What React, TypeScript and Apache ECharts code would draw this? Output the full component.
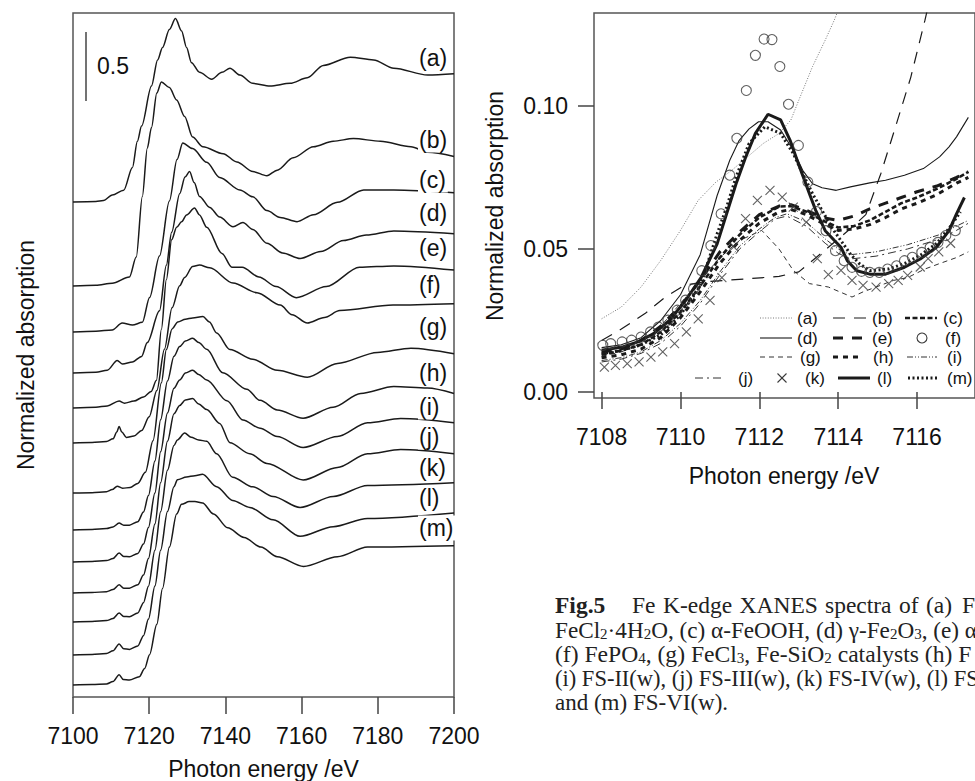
import React, { useEffect, useRef } from "react";
import * as echarts from "echarts";

// ---------------- DATA ----------------
// Left panel: normalized Fe K-edge XANES spectra, [photon energy (eV), normalized absorption]
const energyTicksLeft = [7100, 7120, 7140, 7160, 7180, 7200];
const energyTicksRight = [7108, 7110, 7112, 7114, 7116];
const absTicksRight = [0, 0.05, 0.1];
const sampleLabels = ["(a)", "(b)", "(c)", "(d)", "(e)", "(f)", "(g)", "(h)", "(i)", "(j)", "(k)", "(l)", "(m)"];
// vertical offsets used to stack the spectra
const stackOffsets = [3.59, 2.98, 2.647, 2.35, 2.096, 1.842, 1.479, 1.211, 0.979, 0.754, 0.544, 0.305, 0.087];

const specA = [[7100,0],[7106,0.004],[7108,0.01],[7110.3,0.05],[7113.3,0.085],[7115.6,0.25],[7116.9,0.44],[7118,0.55],[7120.6,0.84],[7122.2,1.03],[7123.5,1.12],[7125.3,1.25],[7126.9,1.33],[7128.5,1.24],[7129.8,1.12],[7131.1,1.01],[7133.2,0.94],[7136.4,0.89],[7139.1,0.94],[7141.2,0.97],[7143.8,0.92],[7147.2,0.86],[7151.7,0.84],[7157,0.86],[7161.5,0.9],[7165.7,0.99],[7172.8,1.05],[7178.9,1.03],[7184.2,0.97],[7193.1,0.92],[7200,0.93]];
const specB = [[7100,0],[7106,0.005],[7110.3,0.02],[7114.8,0.065],[7116.6,0.21],[7118.2,0.65],[7119.5,1.0],[7120.6,1.15],[7122,1.4],[7123.2,1.48],[7125.3,1.44],[7127.2,1.35],[7129.3,1.23],[7131.4,1.08],[7134.1,1.01],[7139.4,0.96],[7143,0.9],[7147.2,0.83],[7150.9,0.8],[7153.6,0.84],[7157.8,0.93],[7163.1,1.01],[7168.3,1.05],[7173.6,1.07],[7180.7,1.05],[7188.7,1.01],[7193.1,0.97],[7200,0.94]];
const specC = [[7100,0],[7106,0.005],[7110.3,0.015],[7112.9,0.065],[7115.6,0.05],[7118.2,0.07],[7120.1,0.25],[7122.7,0.55],[7125.3,0.95],[7127.3,1.25],[7128.8,1.37],[7131.4,1.33],[7135.1,1.23],[7138.5,1.12],[7143.8,1.03],[7147.2,0.98],[7150.9,0.88],[7154.4,0.83],[7158.8,0.8],[7163.1,0.85],[7169.4,0.94],[7176.3,1.03],[7184.2,1.03],[7200,1.01]];
const specD = [[7100,0],[7106,0.005],[7109,0.02],[7111.6,0.09],[7113,0.065],[7115.6,0.08],[7118,0.12],[7119.5,0.22],[7122.7,0.45],[7124.5,0.78],[7125.9,1.02],[7128,1.3],[7129.4,1.42],[7130.6,1.46],[7131.8,1.38],[7133.2,1.28],[7135.9,1.2],[7138.5,1.13],[7142,1.06],[7144.6,1.09],[7147.2,1.04],[7150.9,0.94],[7155,0.87],[7159.6,0.83],[7165,0.88],[7171,0.96],[7177,1.0],[7184.2,1.03],[7200,1.01]];
const specE = [[7100,0],[7106,0.005],[7109,0.015],[7112.1,0.05],[7113.5,0.035],[7116,0.05],[7118.5,0.08],[7120.5,0.12],[7121.9,0.2],[7123.2,0.57],[7124.5,0.93],[7125.9,1.22],[7127.2,1.31],[7128.5,1.35],[7129.8,1.4],[7131.9,1.45],[7133.2,1.4],[7135.1,1.31],[7139.1,1.12],[7141.7,1.02],[7144.4,1.02],[7148.8,0.95],[7153.3,0.88],[7158.6,0.8],[7166.5,0.88],[7175.2,1.02],[7184.2,1.03],[7200,1.0]];
const specF = [[7100,0],[7105,0.003],[7108.8,0.01],[7110.5,0.03],[7111.5,0.08],[7112.1,0.12],[7112.8,0.08],[7114,0.04],[7116,0.05],[7118,0.09],[7120,0.19],[7122,0.38],[7124,0.68],[7126,0.98],[7128,1.14],[7129.3,1.2],[7131.4,1.28],[7133.2,1.29],[7135.9,1.27],[7142,1.16],[7148.3,1.09],[7154.4,1.0],[7157.5,0.93],[7161.5,0.87],[7166,0.91],[7170,0.96],[7184,1.0],[7200,1.01]];
const specG = [[7100,0],[7105,0.003],[7108.8,0.01],[7110.3,0.025],[7111.6,0.05],[7113,0.035],[7115,0.04],[7117,0.07],[7119,0.15],[7121,0.38],[7123.2,0.8],[7124.5,1.04],[7126,1.19],[7127.5,1.24],[7129.5,1.26],[7131.4,1.27],[7134.1,1.28],[7135.8,1.24],[7137.7,1.16],[7141.2,1.04],[7147.2,0.97],[7153.6,0.89],[7161.5,0.84],[7169.4,0.94],[7179.9,1.02],[7188.7,1.05],[7200,1.01]];
const specH = [[7100,0],[7105,0.003],[7108.8,0.01],[7110.5,0.022],[7112.1,0.05],[7113.3,0.035],[7114.8,0.035],[7117,0.06],[7118.5,0.13],[7119.8,0.25],[7121.5,0.5],[7123,0.8],[7124.8,1.08],[7126.5,1.26],[7128,1.33],[7129.5,1.37],[7131.4,1.39],[7133,1.36],[7135.1,1.31],[7139.3,1.14],[7145.6,1.02],[7149.1,0.94],[7153.6,0.87],[7160.4,0.81],[7168.3,0.89],[7175.5,0.99],[7184.2,1.04],[7193,1.03],[7200,0.99]];
const specI = [[7100,0],[7105,0.003],[7108.8,0.01],[7110.5,0.025],[7112.1,0.065],[7113.3,0.04],[7114.8,0.038],[7117,0.062],[7118.5,0.13],[7119.8,0.25],[7121.5,0.5],[7123,0.8],[7124.8,1.08],[7126.5,1.26],[7128,1.32],[7129.5,1.37],[7131.4,1.39],[7133,1.36],[7135.1,1.32],[7140.4,1.17],[7144.6,1.03],[7149.1,0.97],[7153.6,0.91],[7160.4,0.83],[7169.4,0.91],[7177.3,1.01],[7186,1.04],[7200,1.01]];
const specJ = [[7100,0],[7105,0.003],[7108.8,0.01],[7110.5,0.025],[7112.1,0.06],[7113.3,0.035],[7114.8,0.035],[7117,0.06],[7118.5,0.13],[7119.8,0.25],[7121.5,0.5],[7123,0.8],[7124.8,1.1],[7126.5,1.3],[7128,1.36],[7129.5,1.4],[7131.4,1.41],[7133,1.37],[7135.1,1.33],[7138.5,1.23],[7141.2,1.09],[7146.4,1.01],[7150.9,0.94],[7160.4,0.82],[7169.4,0.91],[7177.3,1.01],[7186,1.04],[7200,1.01]];
const specK = [[7100,0],[7105,0.003],[7108.8,0.01],[7110.5,0.025],[7112.1,0.065],[7113.3,0.04],[7114.8,0.038],[7117,0.065],[7118.5,0.14],[7119.8,0.26],[7121.5,0.52],[7123,0.8],[7124.8,1.1],[7126.5,1.28],[7127.4,1.32],[7129.3,1.37],[7131,1.34],[7133,1.32],[7135.1,1.31],[7137.7,1.22],[7141.9,1.05],[7147.2,0.98],[7152.5,0.91],[7159.6,0.83],[7168.3,0.91],[7177.3,0.99],[7200,1.01]];
const specL = [[7100,0],[7105,0.003],[7108.8,0.01],[7110.5,0.03],[7112.1,0.08],[7113.3,0.045],[7114.8,0.04],[7117,0.065],[7118.5,0.14],[7119.8,0.26],[7121.5,0.5],[7123,0.76],[7124.8,1.04],[7126.5,1.22],[7127.4,1.27],[7129.8,1.29],[7132,1.3],[7134,1.31],[7137.7,1.22],[7141.9,1.12],[7146.4,1.07],[7152.5,0.98],[7159.6,0.86],[7168.3,0.93],[7177.3,0.99],[7200,1.03]];
const specM = [[7100,0],[7105,0.003],[7108.8,0.008],[7110.5,0.025],[7112.1,0.075],[7113.2,0.04],[7114.8,0.036],[7117.4,0.06],[7118.8,0.12],[7120.1,0.22],[7122,0.44],[7123.5,0.7],[7125.3,1.0],[7127.2,1.24],[7128.5,1.31],[7130.5,1.33],[7132,1.33],[7134,1.32],[7136.9,1.24],[7140.6,1.14],[7144.9,1.07],[7149.3,1.0],[7153.6,0.93],[7160.5,0.86],[7169.4,0.93],[7177.3,1.0],[7200,1.01]];
const spectra = [specA, specB, specC, specD, specE, specF, specG, specH, specI, specJ, specK, specL, specM];

// Right panel: pre-edge region, [photon energy (eV), normalized absorption]
const preA = [[7108,0.0256],[7108.5,0.0297],[7109,0.0367],[7109.5,0.046],[7110,0.0565],[7110.45,0.067],[7110.9,0.0734],[7111.3,0.0775],[7111.7,0.0822],[7112.1,0.0869],[7112.5,0.0904],[7112.8,0.0951],[7113,0.102],[7113.35,0.1138],[7113.67,0.123],[7113.9,0.13],[7114.1,0.137]];
const preB = [[7108,0.018],[7108.5,0.022],[7109.1,0.0274],[7109.6,0.033],[7110.1,0.0373],[7110.6,0.0385],[7111.1,0.039],[7111.7,0.0396],[7112.5,0.0404],[7113,0.042],[7113.7,0.05],[7114.3,0.057],[7114.7,0.062],[7115.08,0.0763],[7115.48,0.0939],[7115.84,0.11],[7116.2,0.13],[7116.3,0.136]];
const preC = [[7108,0.013],[7108.5,0.0145],[7109,0.0165],[7109.5,0.021],[7110,0.028],[7110.5,0.037],[7111,0.047],[7111.5,0.055],[7112,0.061],[7112.5,0.0648],[7112.8,0.065],[7113.2,0.063],[7113.6,0.06],[7114,0.0575],[7114.4,0.058],[7114.8,0.06],[7115.2,0.063],[7115.6,0.066],[7116,0.068],[7116.5,0.071],[7117,0.0745],[7117.3,0.077]];
const preD = [[7108,0.0155],[7108.5,0.0165],[7109,0.019],[7109.5,0.025],[7110,0.034],[7110.5,0.048],[7110.93,0.0687],[7111.25,0.081],[7111.49,0.088],[7111.74,0.092],[7111.98,0.0945],[7112.22,0.0945],[7112.54,0.0916],[7112.86,0.0845],[7113.1,0.0775],[7113.35,0.0728],[7113.59,0.0714],[7113.95,0.0705],[7114.31,0.0717],[7114.8,0.0731],[7115.2,0.074],[7115.68,0.0758],[7116.16,0.0781],[7116.57,0.0822],[7116.81,0.0857],[7117,0.0892],[7117.3,0.096]];
const preE = [[7108,0.014],[7108.5,0.015],[7109,0.018],[7109.5,0.023],[7110,0.03],[7110.5,0.039],[7111,0.049],[7111.5,0.056],[7112,0.062],[7112.5,0.065],[7112.8,0.0655],[7113.2,0.0635],[7113.6,0.061],[7114,0.06],[7114.4,0.0615],[7114.8,0.064],[7115.2,0.066],[7115.6,0.068],[7116,0.07],[7116.5,0.072],[7117,0.075],[7117.3,0.077]];
const preF = [[7108.03,0.0163],[7108.23,0.0169],[7108.52,0.0175],[7108.76,0.0181],[7109,0.0192],[7109.24,0.021],[7109.44,0.0227],[7109.68,0.0251],[7109.92,0.0286],[7110.13,0.0321],[7110.33,0.0361],[7110.54,0.0424],[7110.77,0.0512],[7111.03,0.0623],[7111.25,0.0758],[7111.43,0.0887],[7111.67,0.1054],[7111.9,0.1177],[7112.12,0.1234],[7112.32,0.1232],[7112.52,0.1138],[7112.74,0.1006],[7112.99,0.0862],[7113.23,0.0734],[7113.45,0.0631],[7113.69,0.0564],[7113.93,0.0494],[7114.15,0.0459],[7114.35,0.0436],[7114.59,0.0422],[7114.8,0.0418],[7115.04,0.0418],[7115.25,0.043],[7115.48,0.0441],[7115.68,0.0459],[7115.88,0.0471],[7116.12,0.0488],[7116.33,0.0505],[7116.53,0.0523],[7116.73,0.0547],[7116.97,0.0564]];
const preG = [[7108,0.0125],[7108.5,0.014],[7109,0.017],[7109.5,0.023],[7110,0.031],[7110.5,0.039],[7111,0.047],[7111.5,0.053],[7112.06,0.0565],[7112.5,0.05],[7112.86,0.0425],[7113.27,0.0379],[7113.75,0.0367],[7114.35,0.0332],[7114.63,0.035],[7114.96,0.0367],[7115.4,0.039],[7115.76,0.04],[7116.2,0.043],[7116.57,0.0449],[7117,0.047],[7117.3,0.049]];
const preH = [[7108,0.012],[7108.5,0.013],[7109,0.015],[7109.5,0.019],[7110,0.026],[7110.5,0.035],[7111,0.045],[7111.5,0.053],[7112,0.059],[7112.5,0.063],[7112.8,0.0638],[7113.2,0.062],[7113.6,0.059],[7114,0.0565],[7114.4,0.057],[7114.8,0.0585],[7115.2,0.061],[7115.6,0.064],[7116,0.066],[7116.5,0.069],[7117,0.073],[7117.3,0.075]];
const preI = [[7108,0.011],[7108.5,0.012],[7109,0.014],[7109.5,0.018],[7110,0.024],[7110.5,0.032],[7111,0.042],[7111.5,0.051],[7112,0.057],[7112.4,0.061],[7112.7,0.0623],[7113.19,0.0595],[7113.67,0.0535],[7114,0.05],[7114.31,0.048],[7114.96,0.049],[7115.76,0.0515],[7116.57,0.055],[7117,0.058],[7117.3,0.06]];
const preJ = [[7108,0.0105],[7108.5,0.0115],[7109,0.0135],[7109.5,0.017],[7110,0.023],[7110.5,0.031],[7111,0.041],[7111.5,0.05],[7112,0.056],[7112.4,0.0605],[7112.7,0.0615],[7113.19,0.058],[7113.67,0.052],[7114,0.0485],[7114.31,0.0465],[7114.96,0.0475],[7115.76,0.05],[7116.57,0.0535],[7117,0.0565],[7117.3,0.059]];
const preK = [[7108.07,0.0087],[7108.35,0.0093],[7108.65,0.0099],[7108.95,0.0105],[7109.25,0.0122],[7109.55,0.014],[7109.85,0.0169],[7110.15,0.021],[7110.45,0.0256],[7110.75,0.032],[7111.05,0.04],[7111.35,0.0507],[7111.65,0.0606],[7111.95,0.067],[7112.27,0.0705],[7112.58,0.0681],[7112.86,0.0646],[7113.19,0.0594],[7113.47,0.0466],[7113.75,0.041],[7114.07,0.0425],[7114.35,0.039],[7114.63,0.0373],[7114.96,0.0367],[7115.28,0.0379],[7115.52,0.039],[7115.76,0.0408],[7116.08,0.0437],[7116.28,0.0466],[7116.55,0.049],[7116.85,0.052]];
const preL = [[7108,0.0146],[7108.52,0.0157],[7108.92,0.0175],[7109.32,0.0204],[7109.72,0.025],[7110.13,0.032],[7110.53,0.0402],[7110.93,0.0518],[7111.17,0.0623],[7111.41,0.0728],[7111.65,0.082],[7111.9,0.0904],[7112.22,0.0971],[7112.54,0.0951],[7112.78,0.088],[7113.02,0.0787],[7113.27,0.0693],[7113.43,0.0635],[7113.67,0.0564],[7113.91,0.0529],[7114.07,0.0506],[7114.23,0.0459],[7114.47,0.0424],[7114.8,0.0412],[7115.2,0.0412],[7115.68,0.0436],[7116.08,0.0465],[7116.49,0.0506],[7116.81,0.0564],[7117,0.0623],[7117.2,0.068]];
const preM = [[7108,0.0134],[7108.5,0.0145],[7109,0.0165],[7109.5,0.02],[7110,0.027],[7110.5,0.037],[7110.93,0.0553],[7111.17,0.0646],[7111.41,0.0752],[7111.74,0.0869],[7112.14,0.0927],[7112.54,0.0904],[7112.86,0.0834],[7113.1,0.0763],[7113.35,0.0693],[7113.59,0.0635],[7113.83,0.0576],[7114.07,0.0529],[7114.31,0.0482],[7114.55,0.0447],[7114.8,0.0424],[7115.28,0.043],[7115.7,0.045],[7116.1,0.048],[7116.5,0.052],[7116.8,0.057],[7117.1,0.063]];

// ---------------- STYLE / LAYOUT ----------------
const SANS = "'Liberation Sans', Arial, Helvetica, sans-serif";
const SERIF = "'Liberation Serif', 'Times New Roman', serif";
const INK = "#1a1a1a";
const FRAME = "#555";
const MARK = "#3a3a3a";

const rightLineStyles: Record<string, any> = {
  a: { color: "#777", width: 1, type: [1, 1.6] },
  b: { color: INK, width: 1.2, type: [12, 9] },
  c: { color: INK, width: 2.6, type: [5, 2.5] },
  d: { color: INK, width: 1.1, type: "solid" },
  e: { color: INK, width: 3, type: [10, 9] },
  g: { color: "#333", width: 1, type: [5, 4] },
  h: { color: INK, width: 3, type: [5, 5] },
  i: { color: "#333", width: 1, type: [6, 2, 1, 2, 1, 2] },
  j: { color: "#333", width: 1, type: [8, 4, 2, 4] },
  l: { color: INK, width: 3, type: "solid" },
  m: { color: INK, width: 3, type: [2, 2.5] },
};

const CROSS = "path://M0 0L10 10M10 0L0 10";

function buildOption() {
  const leftSeries = spectra.map((spec, i) => ({
    name: sampleLabels[i],
    type: "line",
    xAxisIndex: 0,
    yAxisIndex: 0,
    data: spec.map(([e, v]) => [e, Math.round((v + stackOffsets[i]) * 10000) / 10000]),
    symbol: "none",
    showSymbol: false,
    smooth: 0.3,
    smoothMonotone: "x",
    lineStyle: { color: INK, width: 1.5 },
    silent: true,
    z: 2,
  }));

  const rl = (key: string, data: number[][], z = 3) => ({
    name: "pre " + key,
    type: "line",
    xAxisIndex: 1,
    yAxisIndex: 1,
    data,
    symbol: "none",
    showSymbol: false,
    smooth: false,
    lineStyle: { ...rightLineStyles[key], cap: "butt" },
    silent: true,
    z,
  });
  const rs = (key: string, data: number[][], symbol: string) => ({
    name: "pre " + key,
    type: "scatter",
    xAxisIndex: 1,
    yAxisIndex: 1,
    data,
    symbol,
    symbolSize: symbol === "circle" ? 10 : 9,
    itemStyle: { color: "rgba(0,0,0,0)", borderColor: MARK, borderWidth: 1.1 },
    silent: true,
    z: 4,
  });

  const rightSeries = [
    rl("a", preA),
    rl("b", preB),
    rl("g", preG),
    rl("i", preI),
    rl("j", preJ),
    rl("c", preC),
    rl("e", preE),
    rl("h", preH),
    rl("d", preD),
    rl("m", preM),
    rl("l", preL),
    rs("f", preF, "circle"),
    rs("k", preK, CROSS),
  ];

  // ---------- graphic overlay ----------
  const g: any[] = [];
  const txt = (x: number, y: number, text: string, opts: any = {}) => ({
    type: "text",
    x,
    y,
    z: 100,
    silent: true,
    style: {
      text,
      fontSize: 23,
      fontFamily: SANS,
      fill: "#111",
      align: "left",
      textAlign: "left",
      verticalAlign: "middle",
      textVerticalAlign: "middle",
      ...opts,
    },
  });

  // scale bar
  g.push({ type: "line", z: 100, silent: true, shape: { x1: 86, y1: 32, x2: 86, y2: 101 }, style: { stroke: "#444", lineWidth: 1.5 } });
  g.push(txt(97, 66, "0.5"));

  // curve labels in left panel
  const labelYs = [58, 140, 180, 213, 248, 285, 327, 373, 407, 437, 468, 498, 528];
  sampleLabels.forEach((lab, i) => {
    g.push(txt(418, labelYs[i], lab, { backgroundColor: "#fff", padding: [1, 2, 1, 1] }));
  });

  // axis titles
  g.push(txt(263.5, 769, "Photon energy /eV", { align: "center", textAlign: "center" }));
  g.push(txt(784, 476, "Photon energy /eV", { align: "center", textAlign: "center" }));
  g.push({ ...txt(26, 355, "Normalized absorption", { align: "center", textAlign: "center" }), rotation: Math.PI / 2 });
  g.push({ ...txt(495, 206, "Normalized absorption", { align: "center", textAlign: "center" }), rotation: Math.PI / 2 });

  // legend of right panel
  const legendItems: any[] = [
    { k: "a", x1: 760, x2: 792, y: 318, tx: 797 },
    { k: "b", x1: 833, x2: 867, y: 318, tx: 872 },
    { k: "c", x1: 905, x2: 937, y: 318, tx: 943 },
    { k: "d", x1: 760, x2: 792, y: 338, tx: 797 },
    { k: "e", x1: 833, x2: 867, y: 338, tx: 872 },
    { k: "f", cx: 922, y: 338, tx: 945, mark: "circle" },
    { k: "g", x1: 760, x2: 792, y: 357, tx: 800 },
    { k: "h", x1: 833, x2: 858, y: 357, tx: 873 },
    { k: "i", x1: 907, x2: 937, y: 357, tx: 947 },
    { k: "j", x1: 695, x2: 723, y: 378, tx: 738 },
    { k: "k", cx: 782, y: 378, tx: 805, mark: "cross" },
    { k: "l", x1: 838, x2: 870, y: 378, tx: 877 },
    { k: "m", x1: 908, x2: 938, y: 378, tx: 947 },
  ];
  legendItems.forEach((it) => {
    if (it.mark === "circle") {
      g.push({ type: "circle", z: 100, silent: true, shape: { cx: it.cx, cy: it.y, r: 5 }, style: { fill: "none", stroke: MARK, lineWidth: 1.1 } });
    } else if (it.mark === "cross") {
      g.push({ type: "line", z: 100, silent: true, shape: { x1: it.cx - 4.5, y1: it.y - 4.5, x2: it.cx + 4.5, y2: it.y + 4.5 }, style: { stroke: MARK, lineWidth: 1.1 } });
      g.push({ type: "line", z: 100, silent: true, shape: { x1: it.cx - 4.5, y1: it.y + 4.5, x2: it.cx + 4.5, y2: it.y - 4.5 }, style: { stroke: MARK, lineWidth: 1.1 } });
    } else {
      const s = rightLineStyles[it.k];
      g.push({
        type: "line",
        z: 100,
        silent: true,
        shape: { x1: it.x1, y1: it.y, x2: it.x2, y2: it.y },
        style: { stroke: s.color, lineWidth: s.width, lineDash: Array.isArray(s.type) ? s.type : null, lineCap: "butt" },
      });
    }
    g.push(txt(it.tx, it.y, "(" + it.k + ")", { fontSize: 17 }));
  });

  // caption (justified in the original, so the first line is set word by word)
  const capRich = {
    s: { fontFamily: SERIF, fontSize: 15, fill: "#222", lineHeight: 10, verticalAlign: "bottom" },
  };
  const cap = (x: number, y: number, text: string, size: number, extra: any = {}) =>
    txt(x, y, text, { fontFamily: SERIF, fontSize: size, fill: "#222", lineHeight: 24, rich: capRich, ...extra });
  g.push(cap(555, 605.3, "Fig.5", 23.5, { fontWeight: "bold" }));
  const line1Words: [number, string][] = [[632, "Fe"], [663, "K-edge"], [739.5, "XANES"], [825, "spectra"], [899, "of"], [926, "(a)"], [962, "F"]];
  line1Words.forEach(([x, w]) => g.push(cap(x, 605.3, w, 23.5)));
  g.push(cap(555, 629.6, "FeCl{s|2}·4H{s|2}O, (c) α-FeOOH, (d) γ-Fe{s|2}O{s|3}, (e) α", 23.2));
  g.push(cap(555, 653.9, "(f) FePO{s|4}, (g) FeCl{s|3}, Fe-SiO{s|2}\u00a0catalysts (h) F", 23.6));
  g.push(cap(555, 678.2, "(i) FS-II(w), (j) FS-III(w), (k) FS-IV(w), (l) FS", 22.5));
  g.push(cap(555, 702.5, "and (m) FS-VI(w).", 23));

  const tickFont = { fontSize: 23, fontFamily: SANS, color: "#111" };

  return {
    animation: false,
    backgroundColor: "#fff",
    grid: [
      { left: 73, top: 13, width: 381, height: 684, show: true, borderColor: FRAME, borderWidth: 1.5, backgroundColor: "transparent" },
      { left: 594, top: 13, width: 400, height: 385, show: true, borderColor: FRAME, borderWidth: 1.5, backgroundColor: "transparent" },
    ],
    xAxis: [
      {
        type: "value",
        gridIndex: 0,
        min: energyTicksLeft[0],
        max: energyTicksLeft[energyTicksLeft.length - 1],
        interval: 20,
        axisLine: { show: false },
        axisTick: { show: true, inside: false, length: 17, lineStyle: { color: "#444", width: 1.5 } },
        axisLabel: { ...tickFont, margin: 27, formatter: (v: number) => String(v) },
        splitLine: { show: false },
      },
      {
        type: "value",
        gridIndex: 1,
        min: 7107.807,
        max: 7107.807 + 400 / 41.4,
        axisLine: { show: false },
        axisTick: { show: true, inside: false, length: 17, lineStyle: { color: "#444", width: 1.5 }, customValues: energyTicksRight },
        axisLabel: { ...tickFont, margin: 27, customValues: energyTicksRight, formatter: (v: number) => String(v) },
        splitLine: { show: false },
      },
    ],
    yAxis: [
      { type: "value", gridIndex: 0, min: 0, max: 4.96, show: false, splitLine: { show: false } },
      {
        type: "value",
        gridIndex: 1,
        min: -0.0021,
        max: 0.1325,
        axisLine: { show: false },
        axisTick: { show: true, inside: false, length: 16, lineStyle: { color: "#444", width: 1.5 }, customValues: absTicksRight },
        axisLabel: { ...tickFont, margin: 26, customValues: absTicksRight, formatter: (v: number) => v.toFixed(2) },
        splitLine: { show: false },
      },
    ],
    series: [...leftSeries, ...rightSeries],
    graphic: { elements: g },
  };
}

export default function App() {
  const ref = useRef<HTMLDivElement>(null);
  useEffect(() => {
    if (!ref.current) return;
    const chart = echarts.init(ref.current, null, { renderer: "svg" });
    chart.setOption(buildOption() as any);
    return () => chart.dispose();
  }, []);
  return (
    <div
      ref={ref}
      style={{ position: "fixed", left: 0, top: 0, width: 975, height: 781, background: "#fff" }}
    />
  );
}
